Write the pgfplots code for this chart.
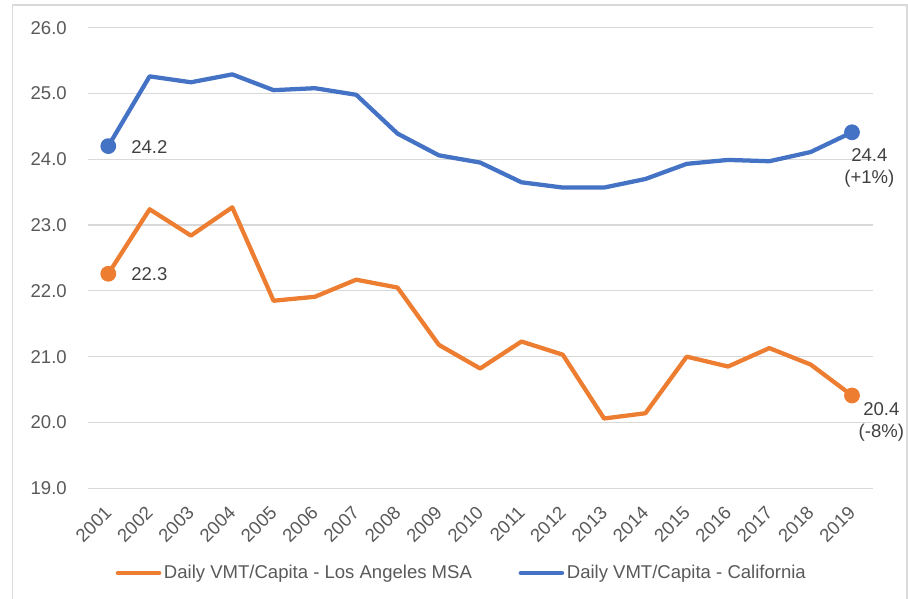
\documentclass[border=0pt]{standalone}
\usepackage{pgfplots}
\pgfplotsset{compat=1.18}
\usepackage{fontspec}
\setmainfont{Liberation Sans}
\definecolor{cablue}{HTML}{4472C4}
\definecolor{laorange}{HTML}{ED7D31}
\definecolor{gridgray}{HTML}{D9D9D9}
\definecolor{txtgray}{HTML}{595959}
\definecolor{lblgray}{HTML}{404040}
\newcommand{\chartfont}{\fontsize{13.9}{16.2}\selectfont}
\begin{document}
\begin{tikzpicture}
\path[use as bounding box] (-65.74pt,-83pt) rectangle (615.26pt,366.2pt);
\draw[gridgray, line width=1.2pt] (-56.3pt,-84pt) -- (-56.3pt,362.6pt) -- (614.3pt,362.6pt) -- (614.3pt,-84pt);
\begin{axis}[
  at={(0pt,0pt)}, anchor=south west,
  scale only axis,
  width=588.75pt, height=345.45pt,
  xmin=2000.5, xmax=2019.5,
  ymin=19, ymax=26,
  axis line style={draw=none},
  tick style={draw=none},
  ymajorgrids, grid style={gridgray, line width=0.9pt},
  xtick={2001,2002,2003,2004,2005,2006,2007,2008,2009,2010,2011,2012,2013,2014,2015,2016,2017,2018,2019},
  xticklabels={2001,2002,2003,2004,2005,2006,2007,2008,2009,2010,2011,2012,2013,2014,2015,2016,2017,2018,2019},
  ytick={19,20,21,22,23,24,25,26},
  yticklabel style={/pgf/number format/fixed, /pgf/number format/fixed zerofill, /pgf/number format/precision=1, /pgf/number format/assume math mode=true},
  yticklabel style={font=\chartfont, text=txtgray, anchor=east, inner sep=0pt, xshift=-15.5pt},
  xticklabel style={font=\chartfont, text=txtgray, yshift=-16pt, rotate=45, anchor=east, inner sep=0pt, xshift=0pt},
  legend style={at={(axis description cs:0.477,-0.184)}, anchor=center, draw=none, fill=none,
    font=\chartfont, text=txtgray, column sep=0pt,
    /tikz/every even column/.append style={column sep=33pt}},
  legend columns=2,
  legend cell align=left,
  clip=false,
]
\addplot[laorange, line width=3.2pt, line join=round, mark=*, mark size=4.3pt, mark indices={1,19},
  legend image code/.code={\draw[laorange, line width=3.2pt, line cap=round] (0pt,0pt) -- (31pt,0pt);}]
coordinates {
(2001,22.26) (2002,23.24) (2003,22.84) (2004,23.27) (2005,21.85) (2006,21.91) (2007,22.17)
(2008,22.05) (2009,21.18) (2010,20.82) (2011,21.23) (2012,21.03) (2013,20.06) (2014,20.14)
(2015,21.00) (2016,20.85) (2017,21.13) (2018,20.88) (2019,20.41)};
\addlegendentry{Daily VMT/Capita - Los Angeles MSA}
\addplot[cablue, line width=3.2pt, line join=round, mark=*, mark size=4.3pt, mark indices={1,19},
  legend image code/.code={\draw[cablue, line width=3.2pt, line cap=round] (0pt,0pt) -- (31pt,0pt);}]
coordinates {
(2001,24.20) (2002,25.26) (2003,25.17) (2004,25.29) (2005,25.05) (2006,25.08) (2007,24.98)
(2008,24.39) (2009,24.06) (2010,23.95) (2011,23.65) (2012,23.57) (2013,23.57) (2014,23.70)
(2015,23.93) (2016,23.99) (2017,23.97) (2018,24.11) (2019,24.41)};
\addlegendentry{Daily VMT/Capita - California}
\node[font=\chartfont, text=lblgray, anchor=west, inner sep=0pt] at (axis cs:2001.55,24.18) {24.2};
\node[font=\chartfont, text=lblgray, anchor=west, inner sep=0pt] at (axis cs:2001.55,22.25) {22.3};
\node[font=\chartfont, text=lblgray, align=center, inner sep=0pt, anchor=center] at (axis cs:2019.42,23.87) {24.4\\[0.5pt](+1\%)};
\node[font=\chartfont, text=lblgray, align=center, inner sep=0pt, anchor=center] at (axis cs:2019.71,20.01) {20.4\\[0.5pt](-8\%)};
\end{axis}
\end{tikzpicture}
\end{document}
